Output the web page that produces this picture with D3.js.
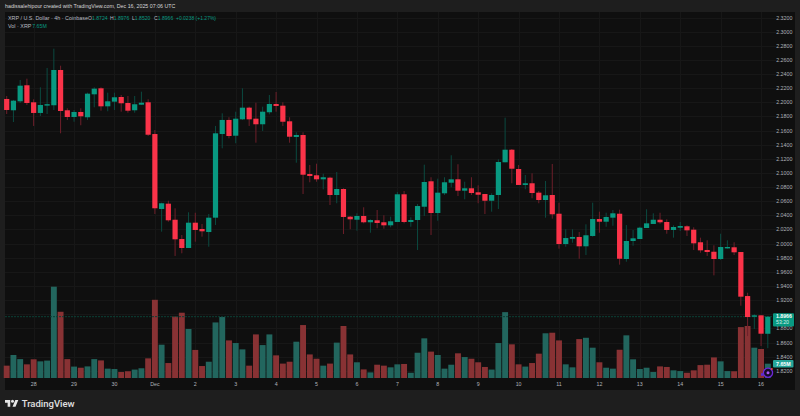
<!DOCTYPE html>
<html><head><meta charset="utf-8">
<script src="https://cdn.jsdelivr.net/npm/d3@7/dist/d3.min.js"></script>
<style>html,body{margin:0;padding:0;background:#1e1e1e;overflow:hidden}svg{display:block}text{font-family:"Liberation Sans",Arimo,sans-serif}</style>
</head><body><svg id="c" width="800" height="416"></svg>
<script>
const opens=[2.2047,2.1887,2.2014,2.2241,2.2000,2.1849,2.1962,2.1958,2.2457,2.1887,2.1792,2.1863,2.1788,2.2113,2.2198,2.1943,2.2009,2.2075,2.1990,2.1887,2.1966,2.2000,2.1551,2.0490,2.0565,2.0338,2.0065,1.9938,2.0296,2.0207,2.0164,2.0367,2.1551,2.1750,2.1527,2.1759,2.1924,2.1768,2.1689,2.1859,2.1976,2.1952,2.1731,2.1509,2.1537,2.0985,2.0967,2.0910,2.0933,2.0688,2.0773,2.0381,2.0338,2.0391,2.0302,2.0330,2.0302,2.0259,2.0306,2.0698,2.0306,2.0334,2.0522,2.0882,2.0433,2.0712,2.0862,2.0910,2.0749,2.0783,2.0726,2.0702,2.0607,2.0688,2.1151,2.1329,2.1056,2.0830,2.0854,2.0721,2.0617,2.0688,2.0423,1.9994,2.0069,2.0094,1.9962,2.0108,2.0348,2.0310,2.0367,2.0423,1.9782,2.0037,2.0065,2.0221,2.0278,2.0338,2.0306,2.0193,2.0225,2.0245,2.0197,2.0019,1.9910,1.9885,1.9782,1.9938,1.9948,1.9881,1.9258,1.8966,1.8985,1.8724];
const highs=[2.2089,2.2033,2.2316,2.2334,2.2043,2.2212,2.2486,2.2759,2.2518,2.1915,2.1891,2.1915,2.2136,2.2212,2.2212,2.2136,2.2136,2.2103,2.2089,2.2089,2.2150,2.2043,2.1608,2.0579,2.0607,2.0500,2.0122,2.0443,2.0437,2.0278,2.0419,2.1665,2.1844,2.1788,2.1867,2.2198,2.1938,2.1994,2.1938,2.2103,2.2146,2.2000,2.1788,2.1575,2.1575,2.1113,2.1131,2.0989,2.0947,2.1013,2.0783,2.0391,2.0429,2.0514,2.0344,2.0476,2.0401,2.0381,2.0730,2.0745,2.0372,2.0561,2.1117,2.0939,2.0919,2.0939,2.1250,2.1123,2.0876,2.0939,2.0825,2.0702,2.0712,2.1193,2.1782,2.1339,2.1113,2.0971,2.0995,2.0745,2.0886,2.1127,2.0579,2.0203,2.0203,2.0164,2.0273,2.0579,2.0452,2.0437,2.0476,2.0480,2.0263,2.0193,2.0239,2.0486,2.0429,2.0437,2.0344,2.0259,2.0306,2.0259,2.0231,2.0084,2.0047,1.9976,2.0140,2.0047,2.0019,1.9881,1.9305,1.8999,1.8985,1.8976];
const lows=[2.1834,2.1721,2.1990,2.1962,2.1665,2.1806,2.1834,2.1891,2.1561,2.1750,2.1725,2.1675,2.1750,2.1929,2.1881,2.1873,2.1891,2.1867,2.1853,2.1853,2.1962,2.1523,2.0419,2.0169,2.0310,1.9825,1.9863,1.9938,2.0027,2.0098,1.9956,2.0263,2.1349,2.1490,2.1420,2.1750,2.1665,2.1428,2.1594,2.1830,2.1867,2.1665,2.1428,2.1145,2.0702,2.0868,2.0876,2.0769,2.0546,2.0571,2.0136,2.0203,2.0183,2.0287,2.0154,2.0217,2.0211,2.0231,2.0306,2.0287,2.0239,1.9910,2.0391,2.0122,2.0324,2.0688,2.0797,2.0674,2.0627,2.0688,2.0571,2.0419,2.0452,2.0490,2.1151,2.0854,2.0830,2.0769,2.0641,2.0571,2.0367,2.0353,1.9928,1.9956,2.0013,1.9786,1.9839,2.0098,2.0154,2.0239,2.0253,1.9702,1.9744,1.9970,2.0065,2.0221,2.0278,2.0282,2.0140,2.0084,2.0178,2.0108,1.9910,1.9871,1.9825,1.9551,1.9768,1.9928,1.9839,1.9121,1.8692,1.8791,1.8551,1.8520];
const closes=[2.1891,2.2023,2.2235,2.1990,2.1849,2.1962,2.1973,2.2457,2.1877,2.1792,2.1863,2.1802,2.2122,2.2193,2.1943,2.2014,2.2071,2.1986,2.1881,2.1972,2.1994,2.1541,2.0500,2.0571,2.0330,2.0061,1.9938,2.0296,2.0193,2.0174,2.0367,2.1561,2.1750,2.1523,2.1768,2.1924,2.1759,2.1689,2.1867,2.1976,2.1948,2.1725,2.1513,2.1537,2.0975,2.0957,2.0910,2.0939,2.0688,2.0773,2.0377,2.0344,2.0391,2.0302,2.0334,2.0292,2.0259,2.0316,2.0698,2.0306,2.0334,2.0532,2.0872,2.0433,2.0721,2.0868,2.0910,2.0749,2.0783,2.0716,2.0692,2.0607,2.0688,2.1155,2.1329,2.1060,2.0830,2.0854,2.0716,2.0617,2.0684,2.0415,1.9994,2.0079,2.0094,1.9962,2.0118,2.0348,2.0310,2.0377,2.0429,1.9786,2.0037,2.0075,2.0225,2.0287,2.0338,2.0302,2.0193,2.0235,2.0249,2.0188,2.0004,1.9905,1.9881,1.9782,1.9952,1.9952,1.9877,1.9249,1.8961,1.8985,1.8725,1.8966];
const volumes=[6.6,12.3,10.1,7.3,10.0,8.9,9.3,48.8,35.4,10.1,6.1,5.5,6.2,10.1,9.4,5.0,4.8,3.2,3.6,4.5,5.2,10.5,41.8,17.8,8.0,32.9,34.9,26.2,15.0,6.4,8.7,29.7,32.6,20.1,18.7,15.3,6.6,23.3,17.6,23.3,12.1,7.7,8.7,19.4,28.3,12.6,10.3,6.6,7.7,18.9,27.8,12.6,8.4,4.6,3.0,7.1,6.6,5.7,7.3,7.5,2.8,13.5,21.2,14.1,12.3,5.0,7.1,13.2,11.2,10.3,8.4,5.9,4.5,18.7,35.2,18.0,7.3,6.1,8.0,13.0,23.9,24.2,20.1,7.3,5.7,20.8,21.5,16.2,8.4,5.5,5.0,15.1,22.8,10.0,4.8,5.5,3.2,6.2,5.9,4.1,3.7,2.8,4.1,6.9,7.1,11.0,8.9,3.7,3.6,27.2,27.8,16.2,15.5,7.65];
const dayLabels=["28","29","30","Dec","2","3","4","5","6","7","8","9","10","11","12","13","14","15","16"];
const dayIndex=[4,10,16,22,28,34,40,46,52,58,64,70,76,82,88,94,100,106,112];
const priceTicks=d3.range(26).map(i=>+(1.82+i*0.02).toFixed(2));
const lastPrice=1.8966, lastVolume=7.65;
const titleText="hadissalehipour created with TradingView.com, Dec 16, 2025 07:06 UTC";
const symbolText="XRP / U.S. Dollar · 4h · Coinbase";
const ohlcLabels=[["O","1.8724"],["H","1.8976"],["L","1.8520"],["C","1.8966"]];
const changeText="+0.0238 (+1.27%)";

const UP="#089981",DOWN="#fb3349",UPW="#0b4a40",DOWNW="#6e1f2a",UPV="#22665e",DOWNV="#883234";
const svg=d3.select("#c");
svg.append("rect").attr("width",800).attr("height",416).attr("fill","#1e1e1e");
svg.append("rect").attr("x",5).attr("y",12).attr("width",790).attr("height",378).attr("fill","#0f0f0f");

const x=d3.scaleLinear().domain([0,113]).range([6.7,767.8]);
const y=d3.scaleLinear().domain([1.82,2.32]).range([370.8,17.5]);
const v=d3.scaleLinear().domain([0,48.8]).range([378,286.7]);
const idx=d3.range(opens.length);

// grid
const grid=svg.append("g").attr("stroke","#171717").attr("stroke-width",1);
grid.selectAll("line.h").data(priceTicks).join("line").attr("class","h")
 .attr("x1",5).attr("x2",777).attr("y1",d=>Math.round(y(d))+.5).attr("y2",d=>Math.round(y(d))+.5);
grid.selectAll("line.v").data(dayIndex).join("line").attr("class","v")
 .attr("y1",12).attr("y2",378).attr("x1",d=>Math.round(x(d))+.5).attr("x2",d=>Math.round(x(d))+.5);

// volume
svg.append("g").selectAll("rect").data(idx).join("rect")
 .attr("x",i=>x(i)-2.95).attr("width",5.9)
 .attr("y",i=>v(volumes[i])).attr("height",i=>v(0)-v(volumes[i]))
 .attr("fill",i=>closes[i]>=opens[i]?UPV:DOWNV);

// last price line
svg.append("line").attr("x1",5).attr("x2",773).attr("y1",y(lastPrice)).attr("y2",y(lastPrice))
 .attr("stroke","#0c4036").attr("stroke-width",1).attr("stroke-dasharray","2 1");

// wicks & bodies
svg.append("g").selectAll("line").data(idx).join("line")
 .attr("x1",i=>x(i)).attr("x2",i=>x(i)).attr("y1",i=>y(highs[i])).attr("y2",i=>y(lows[i]))
 .attr("stroke",i=>closes[i]>=opens[i]?UPW:DOWNW).attr("stroke-width",1);
svg.append("g").selectAll("rect").data(idx).join("rect")
 .attr("x",i=>x(i)-2.6).attr("width",5.2)
 .attr("y",i=>y(Math.max(opens[i],closes[i])))
 .attr("height",i=>Math.max(1.4,Math.abs(y(opens[i])-y(closes[i]))))
 .attr("fill",i=>closes[i]>=opens[i]?UP:DOWN);

// price axis labels (the 1.9000 label sits behind the last-price badge)
svg.append("g").selectAll("text").data(priceTicks.filter(d=>d!==1.9)).join("text")
 .attr("x",776.2).attr("y",d=>y(d)+2).attr("font-size",5.3).attr("fill","#b0b3ba")
 .text(d=>d.toFixed(4));

// time axis labels
svg.append("g").selectAll("text").data(dayIndex).join("text")
 .attr("x",d=>x(d)).attr("y",386).attr("text-anchor","middle").attr("font-size",5.3).attr("fill","#b0b3ba")
 .text((d,i)=>dayLabels[i]);

// last price badge
svg.append("rect").attr("x",773).attr("y",y(lastPrice)-3.4).attr("width",21).attr("height",13.2).attr("rx",1).attr("fill",UP);
svg.append("text").attr("x",776).attr("y",y(lastPrice)+1.8).attr("font-size",5.2).attr("font-weight",700).attr("fill","#fff").text(lastPrice.toFixed(4));
svg.append("text").attr("x",776).attr("y",y(lastPrice)+7.6).attr("font-size",5.2).attr("fill","#d5efe9").text("53:20");
// volume badge
svg.append("rect").attr("x",773).attr("y",360).attr("width",20.5).attr("height",7.4).attr("rx",1).attr("fill","#26a69a");
svg.append("text").attr("x",776).attr("y",365.7).attr("font-size",5.3).attr("font-weight",700).attr("fill","#fff").text(lastVolume.toFixed(2)+"M");

// flag icon
const ic=svg.append("g").attr("transform","translate(768,372.7)");
ic.append("circle").attr("r",4.6).attr("fill","#160c28").attr("stroke","#6d28d9").attr("stroke-width",1.3);
ic.append("circle").attr("r",1.5).attr("fill","#a855f7");
ic.append("rect").attr("x",-7).attr("y",0.5).attr("width",2.6).attr("height",2.6).attr("fill","#5b2bd6");
ic.append("circle").attr("cx",3.8).attr("cy",-3.8).attr("r",1).attr("fill","#ef4444");

// header
svg.append("text").attr("x",5).attr("y",8.4).attr("font-size",5.3).attr("fill","#d6d6d6").text(titleText);
svg.append("text").attr("x",8).attr("y",20.2).attr("font-size",5.4).attr("fill","#b8bbc2").text(symbolText);
const legendX=d3.scalePoint().domain(ohlcLabels.map(d=>d[0]).concat("chg")).range([88,176]);
ohlcLabels.forEach(([k,val])=>{
  const t=svg.append("text").attr("x",legendX(k)).attr("y",20.2).attr("font-size",5.1).attr("fill","#b8bbc2");
  t.append("tspan").text(k);
  t.append("tspan").attr("fill",UP).text(val);
});
svg.append("text").attr("x",legendX("chg")).attr("y",20.2).attr("font-size",5).attr("fill",UP).text(changeText);
svg.append("text").attr("x",8).attr("y",27.8).attr("font-size",5.4).attr("fill","#b8bbc2").text("Vol · XRP");
svg.append("text").attr("x",32.3).attr("y",27.8).attr("font-size",5.2).attr("fill",UP).text(lastVolume.toFixed(2)+"M");

// logo
const lg=svg.append("g").attr("transform","translate(5,398.6) scale(0.375)").attr("fill","#e6e6e6");
lg.append("path").attr("d","M14 22H7V11H0V4h14v18zM28 22h-8l7.5-18h8L28 22z");
lg.append("circle").attr("cx",20).attr("cy",7).attr("r",4);
svg.append("text").attr("x",21.7).attr("y",406.6).attr("font-size",9.5).attr("font-weight",500).attr("fill","#e0e0e0").style("font-family","Roboto").text("TradingView");
</script></body></html>
